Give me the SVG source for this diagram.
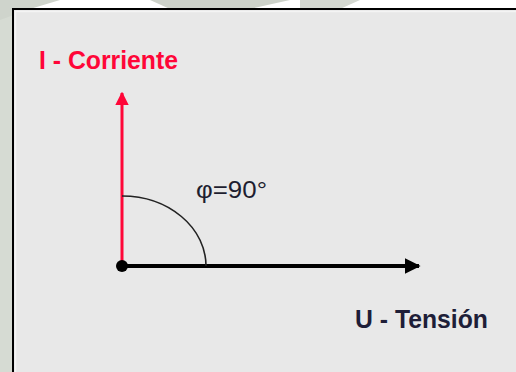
<svg xmlns="http://www.w3.org/2000/svg" width="516" height="372" viewBox="0 0 516 372">
<defs>
<style>
.lbl{font-family:"Liberation Sans",Arial,sans-serif;}
.b{font-weight:bold;font-size:26px;}
</style>
<marker id="ar" viewBox="0 0 10 10" refX="9" refY="5" markerWidth="4" markerHeight="4" orient="auto" markerUnits="strokeWidth">
<path d="M0,0 L10,5 L0,10 z" fill="#000"/>
</marker>
<marker id="ar-red" viewBox="0 0 10 10" refX="9" refY="5" markerWidth="4.5" markerHeight="4.5" orient="auto" markerUnits="strokeWidth">
<path d="M0,0 L10,5 L0,10 z" fill="#ff0638"/>
</marker>
</defs>
<!-- background watermark -->
<rect x="0" y="0" width="516" height="372" fill="#ffffff"/>
<rect x="0" y="0" width="12" height="372" fill="#d6dbd3"/>
<path d="M0,0 L60,0 L30,9 L0,20 z" fill="#cfd4cc"/>
<path d="M150,0 L290,0 L250,9 L170,9 z" fill="#cdd2ca"/>
<path d="M300,0 L360,0 L340,9 L300,9 z" fill="#d4d8d1"/>
<!-- frame -->
<rect x="13" y="9" width="520" height="380" fill="#e8e8e8" stroke="#000" stroke-width="2"/>
<rect x="15.5" y="11.5" width="520" height="380" fill="none" stroke="#f4f4f4" stroke-width="1.5"/>
<g id="connectors">
<line x1="122" y1="266" x2="122" y2="93" stroke="#ff0638" stroke-width="3" marker-end="url(#ar-red)"/>
<line x1="122" y1="266" x2="419" y2="266" stroke="#000" stroke-width="4" marker-end="url(#ar)"/>
<path d="M122,196 A84,70 0 0 1 206,266" fill="none" stroke="#222" stroke-width="1.6"/>
<circle cx="122" cy="266" r="6" fill="#000"/>
</g>
<g id="current">
<text class="lbl b" x="39" y="69" fill="#ff0638" textLength="139" lengthAdjust="spacingAndGlyphs">I - Corriente</text>
</g>
<g id="angle">
<text class="lbl" x="196" y="198" font-size="23" fill="#1e1e30" textLength="71" lengthAdjust="spacingAndGlyphs">φ=90°</text>
</g>
<g id="voltage">
<text class="lbl b" x="355" y="328" fill="#1e1e38" textLength="133" lengthAdjust="spacingAndGlyphs">U - Tensión</text>
</g>
</svg>
